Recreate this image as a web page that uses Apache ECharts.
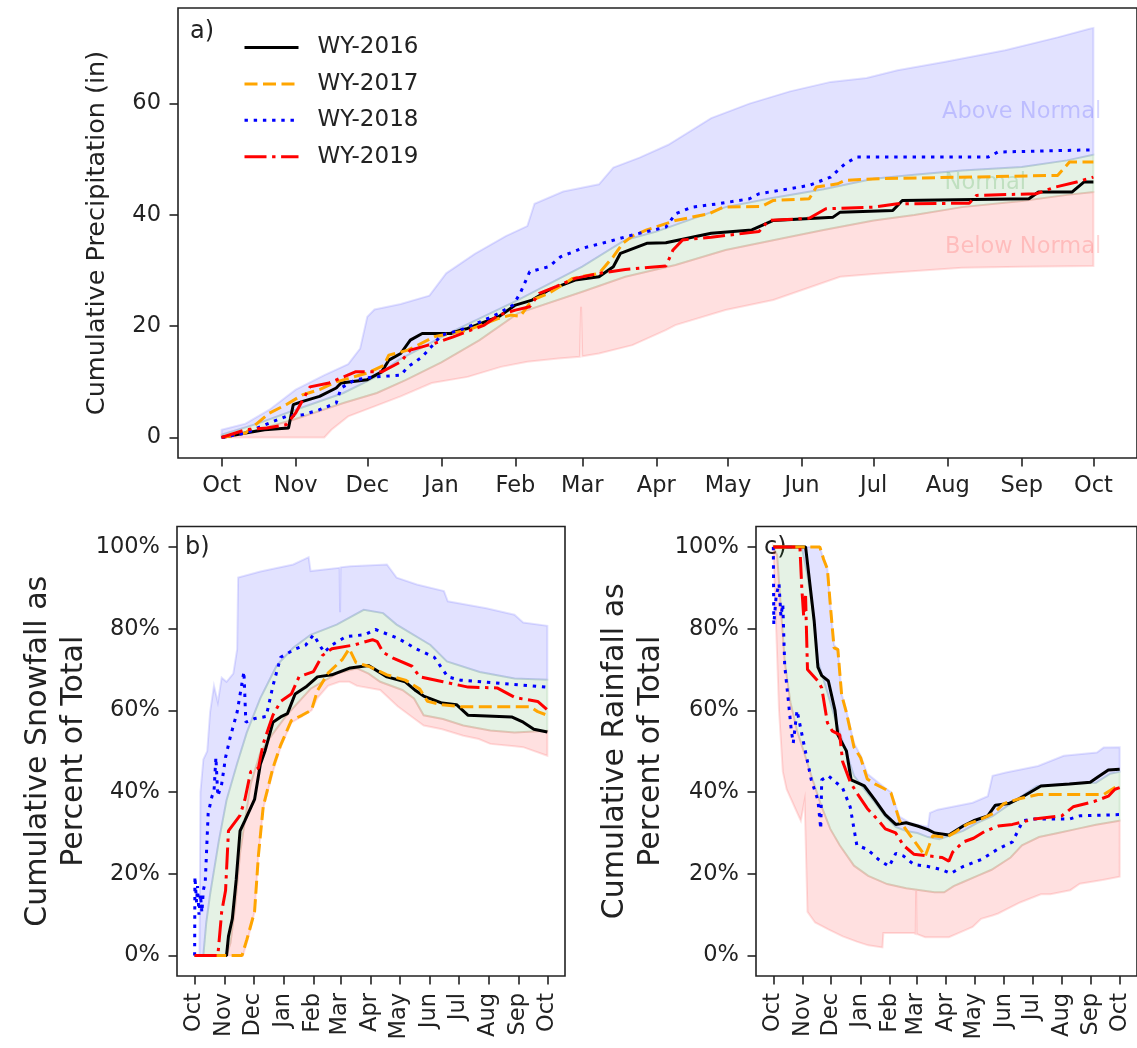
<!DOCTYPE html>
<html>
<head>
<meta charset="utf-8">
<script src="https://cdn.jsdelivr.net/npm/echarts@6/dist/echarts.min.js"></script>
<style>
  html, body { margin: 0; padding: 0; background: #ffffff; }
  #chart { width: 1137px; height: 1048px; }
</style>
</head>
<body>
<div id="chart"></div>
<script>
// ---- axis ticks: day of water year (0 = Oct 1) ----
const monthTicks = [0, 31, 61, 92, 123, 151, 182, 212, 243, 273, 304, 335, 365];
const monthLabels = ['Oct', 'Nov', 'Dec', 'Jan', 'Feb', 'Mar', 'Apr', 'May', 'Jun', 'Jul', 'Aug', 'Sep', 'Oct'];
const precipTicks = [0, 20, 40, 60];
const percentTicks = [0, 20, 40, 60, 80, 100];

const seriesNames = ['WY-2016', 'WY-2017', 'WY-2018', 'WY-2019'];
const bandLabels = ['Above Normal', 'Normal', 'Below Normal'];
const bandLabelAt = [[368.5, 58.5], [337, 45.7], [368.5, 34.2]];

// ---- a) cumulative precipitation (in), [day, value] ----
const precip2016 = [[0,0],[10,0.8],[18,1.4],[28,1.7],[30,5.9],[34,6.5],[41,7.4],[48,8.9],[50,9.8],[61,10.4],[67,11.8],[70,13.9],[75,15.1],[79,17.5],[84,18.7],[96,18.7],[100,19.3],[103,19.6],[116,21.7],[123,23.8],[130,24.7],[137,26.5],[148,28.3],[158,28.9],[164,30.7],[167,33.1],[178,34.9],[186,35],[205,36.7],[222,37.3],[231,39],[256,39.6],[259,40.5],[281,40.8],[285,42.6],[338,42.9],[342,44.1],[356,44.1],[361,45.9],[365,45.9]];
const precip2017 = [[0,0],[10,0.8],[15,2.6],[20,4.4],[27,5.9],[34,7.7],[41,8.6],[48,10],[61,11.6],[68,13],[70,14.8],[78,15.7],[89,18.1],[103,19.3],[116,21.4],[121,22],[125,21.8],[130,24.7],[137,25.9],[147,28.6],[158,29.5],[164,32.5],[168,34.9],[172,36.2],[178,37.3],[190,39],[204,40.2],[210,41.4],[226,41.5],[231,42.6],[246,42.9],[249,45],[258,45.6],[261,46.2],[275,46.5],[350,47.1],[355,49.5],[365,49.5]];
const precip2018 = [[0,0],[10,0.8],[20,2.6],[27,3.8],[34,4.1],[41,5],[48,6.2],[50,8.9],[56,10.4],[64,10.9],[75,11.2],[78,12.7],[84,14.5],[89,16.9],[92,18.4],[100,19.3],[110,21.1],[116,22.3],[122,23.8],[125,25.9],[129,29.8],[137,30.7],[142,32.5],[151,34],[162,35.2],[172,36.4],[186,37.8],[190,40.2],[197,41.4],[208,42],[221,42.9],[225,43.8],[246,45.3],[255,46.8],[261,49.2],[266,50.4],[321,50.4],[325,51.3],[365,51.7]];
const precip2019 = [[0,0],[10,1.4],[19,1.7],[27,2.3],[31,4.4],[37,9.1],[45,9.8],[56,11.8],[67,11.8],[75,13.6],[79,15.7],[89,16.9],[97,18.1],[110,20.2],[116,22],[123,22.9],[129,23.5],[133,25.9],[140,27.1],[148,28.6],[158,29.5],[169,30.2],[186,30.8],[189,33.7],[193,35.5],[205,36],[225,37],[229,39],[246,39.4],[253,41.1],[273,41.4],[283,42],[313,42.1],[316,43.5],[341,43.8],[349,45],[358,45.9],[365,46.8]];

// a) historical envelope: max, upper/lower bound of normal, min
const precipMax = [[0,1.4],[10,2.5],[20,5],[31,8.6],[43,11.2],[53,13.2],[58,16],[61,21.7],[64,23],[75,24],[87,25.5],[94,29.5],[106,33],[119,36.2],[128,38],[131,42],[143,44.2],[158,45.5],[164,48.5],[175,50.3],[187,52.6],[205,57.4],[221,60],[238,62.2],[255,63.9],[270,64.6],[283,66],[303,67.5],[328,69.6],[350,71.9],[363,73.4],[365,73.6]];
const precipNormHigh = [[0,0.5],[15,2.5],[31,5],[51,8],[65,11],[74,13.9],[95,18.7],[124,24.7],[151,30.7],[169,35.5],[182,37],[211,41.4],[230,43],[252,44.6],[273,46.5],[290,47.2],[310,48],[335,48.6],[354,49.8],[365,50.8]];
const precipNormLow = [[0,0.2],[10,0.8],[30,3.2],[51,6.2],[65,8],[77,10.3],[92,13.5],[108,17.5],[124,22.3],[151,26.2],[169,28.9],[190,31],[211,33.7],[235,35.8],[252,37.3],[273,39],[290,40],[310,41.4],[335,42.5],[354,43.6],[365,44.1]];
const precipMin = [[0,0],[43,0],[46,1.4],[53,3.8],[64,5.6],[75,7.4],[88,9.8],[103,10.9],[117,12.7],[128,13.6],[141,14.2],[150,14.5],[150.5,23.5],[151,14.6],[158,15.1],[172,16.6],[186,19.3],[190,20.2],[211,22.9],[231,24.7],[247,27.1],[259,28.9],[273,29.4],[283,29.7],[310,30.5],[335,30.7],[365,30.8]];

// ---- b) cumulative snowfall as percent of total ----
const snow2016 = [[0,0],[33,0],[35,4.7],[39,9],[43,18.5],[47,30.5],[52,33],[62,38.2],[68,46.8],[73,50.2],[81,57.1],[89,58.4],[96,59.2],[104,64],[115,65.7],[127,68.2],[142,68.7],[161,70.4],[180,71],[199,68.2],[218,67],[229,64.8],[237,63.5],[256,61.8],[271,61.4],[283,58.8],[328,58.4],[340,57.1],[351,55.4],[365,54.7]];
const snow2017 = [[0,0],[49,0],[54,3.9],[62,10.7],[66,24.5],[71,36.5],[81,45.9],[89,51.5],[100,57.5],[111,58.8],[121,60.1],[127,64.8],[138,69.1],[153,72.5],[160,75.1],[167,71.7],[180,70.8],[199,68.7],[218,67.4],[233,65.2],[241,62.2],[256,61.4],[275,60.9],[347,60.9],[355,59.7],[365,58.8]];
const snow2018 = [[0,0],[0.3,19.3],[2,13],[3,17],[4.5,10],[6,15],[7.5,10.5],[9,16],[11,18],[14,34.8],[18,39],[20,40],[22,48.5],[24,39],[28,42],[32,48.5],[37,53.6],[44,59.6],[51,69.5],[53,57.1],[62,58],[74,58.5],[81,66],[89,73],[104,75],[115,76],[123,78.5],[134,74.2],[142,76],[157,78.1],[176,78.5],[187,79.8],[210,77.7],[229,75.1],[248,73],[262,68.2],[275,67.4],[365,65.7]];
const snow2019 = [[0,0],[24,0],[28,10.7],[32,15.9],[35,30.5],[47,34.3],[52,38.2],[58,45],[66,45.9],[71,51.9],[81,58.8],[89,62.2],[100,64],[108,68.2],[123,69.5],[132,73.4],[142,75.1],[165,76],[184,77.3],[189,76.8],[195,74.2],[206,72.7],[225,70.8],[233,68.2],[257,67],[283,65.7],[313,65.5],[332,63.1],[355,62.2],[365,60.1]];

const snowMax = [[0,0],[5,0],[6,40],[9,48],[13,50],[16,59.6],[20,66],[24,62],[28,68],[33,67],[40,69],[44,75],[45,92.5],[68,94],[102,95.7],[118,97.5],[120,94.1],[150,94.9],[150.5,84],[151,95],[161,95.3],[199,95.7],[209,92.5],[230,90.8],[258,89.2],[262,86.7],[302,85],[331,83.4],[340,81.5],[365,80.7]];
const snowNormHigh = [[0,0],[9,0],[12,8],[16,15],[25,28],[33,38],[44,47],[54,54.6],[68,63],[85,71],[102,75.3],[120,78.5],[147,81],[175,84.6],[195,83.8],[209,81],[244,76],[261,72],[295,69.4],[331,67.8],[365,67.5]];
const snowNormLow = [[0,0],[33,0],[37,3],[42,12],[47,25],[52,33],[58,42],[68,49.7],[80,54],[95,58.8],[120,65.3],[147,69],[168,70.3],[180,69],[192,67],[215,65],[227,62.9],[237,58.8],[257,57.9],[278,56.3],[306,55.1],[331,54.6],[365,55]];
const snowMin = [[0,0],[50,0],[55,4],[62,10.7],[66,24.5],[71,36],[81,45],[89,51],[100,57],[111,58.5],[121,60],[127,63],[138,66],[150,67],[160,67],[168,66],[192,65],[210,61],[227,58],[237,56.3],[256,55.4],[278,53.8],[294,53],[306,51.8],[331,51.2],[340,51],[365,48.9]];

// ---- c) cumulative rainfall as percent of total ----
const rain2016 = [[0,100],[34,100],[38,92],[43,82],[47,70.6],[51,68.5],[58,67.2],[65,60],[68,54],[77,50.1],[82,43],[96,41.5],[107,38.1],[118,34.5],[129,32.1],[140,32.5],[152,31.7],[163,30.8],[170,30],[185,29.5],[200,31.7],[211,33],[226,34.2],[234,36.8],[248,37.2],[260,38.5],[282,41.5],[312,42],[334,42.4],[342,43.7],[353,45.4],[365,45.6]];
const rain2017 = [[0,100],[49,100],[53,97],[57,94.6],[60,86],[64,75.3],[68,74.9],[72,63.8],[77,59.5],[85,51],[92,48.4],[99,43.2],[107,42],[118,40.7],[124,39.8],[133,33],[144,29.5],[155,26],[160,24.3],[168,29.3],[182,28.9],[193,30.4],[204,32.1],[219,33.4],[232,34.8],[243,37.2],[258,38.3],[279,39.4],[348,39.4],[360,41.1],[365,41.4]];
const rain2018 = [[0,100],[0.5,81],[3,88],[6,91],[8,83],[10,86],[12,71],[16,62],[19,55],[21,52],[25,60],[32,52],[40,43],[47,38],[50,31],[51,43],[58,44],[73,41],[81,36.4],[88,27],[99,26],[111,23.5],[122,21.8],[129,25],[137,24.4],[148,22.3],[163,21.8],[178,21],[187,20.1],[200,21.8],[219,23.5],[237,26.1],[252,27.8],[263,33],[275,33.4],[312,33.4],[323,34.2],[365,34.5]];
const rain2019 = [[0,100],[28,100],[30,90],[32,83],[34,88],[36,70],[47,67.2],[51,65.5],[57,57],[62,55],[70,54],[73,47.5],[81,42.5],[88,39.8],[99,36],[111,33],[118,31],[129,30],[137,27],[148,24.8],[163,24.4],[178,24],[185,23.1],[189,25.3],[200,27.8],[211,28.7],[223,30.4],[237,31.7],[252,32.1],[275,33.4],[304,34.2],[316,36.4],[338,37.7],[353,39],[360,40.7],[365,41.1]];

const rainMax = [[0,100],[49,100],[53,97],[57,94.6],[60,86],[64,76],[68,75],[72,64],[77,60],[85,52],[92,49],[99,44.5],[107,43],[118,41],[124,40],[133,34],[144,32.5],[152,32],[163,31.5],[165,34.9],[173,35.7],[210,37.4],[226,39],[231,44],[245,44.8],[279,46.4],[306,48.9],[341,49.7],[348,50.9],[365,51]];
const rainNormHigh = [[0,100],[30,100],[36,93],[42,84],[47,72],[55,66],[65,58],[75,51],[85,44],[95,41],[107,37.5],[118,34],[129,31.5],[140,30.5],[152,30],[163,29],[175,28.5],[200,30.5],[215,32.5],[231,34.1],[257,38.3],[278,41.5],[310,42],[340,42.3],[355,44.5],[365,45]];
const rainNormLow = [[0,100],[4,98],[8,85],[12,72],[18,62],[25,55],[32,50],[40,44],[50,37],[60,31],[70,27],[85,22],[100,19.5],[120,17.5],[140,16.5],[155,16],[170,15.5],[180,15.5],[190,17],[200,18],[215,19.5],[230,21],[250,24],[262,27],[280,29],[300,30],[320,31],[340,32],[365,33]];
const rainMin = [[0,100],[3,80],[6,60],[10,45],[14,40.7],[25,35],[29,33],[33,38],[36,10.7],[44,8.1],[58,6.4],[73,4.7],[88,3.4],[100,2.5],[115,2],[116,5.5],[148,5.5],[150,5.3],[150.5,15.8],[151,5.3],[160,4.5],[185,4.5],[200,6],[210,7],[219,9],[231,9.8],[237,10.3],[260,13],[282,15],[292,15],[313,16],[323,17.6],[347,18.5],[365,19.3]];

// ---- styling ----
const FONT = "'DejaVu Sans', sans-serif";
const INK = '#222222';
const yearStyles = [
  { color: '#000000', type: 'solid' },
  { color: '#ffa500', type: [13, 5.5] },
  { color: '#0000ff', type: [3.4, 5.8] },
  { color: '#ff0000', type: [22, 5.6, 3.4, 5.6] }
];
const bandFill = {
  above: 'rgba(0, 0, 255, 0.115)',
  normal: 'rgba(0, 128, 0, 0.10)',
  below: 'rgba(255, 0, 0, 0.12)'
};
const bandLabelColors = ['rgba(0, 0, 255, 0.2)', 'rgba(0, 128, 0, 0.2)', 'rgba(255, 0, 0, 0.2)'];

function bandSeries(axisIdx, lower, upper, color) {
  return {
    type: 'custom',
    xAxisIndex: axisIdx,
    yAxisIndex: axisIdx,
    silent: true,
    z: 1,
    animation: false,
    data: [lower[0]],
    renderItem: function (params, api) {
      const pts = upper.map(p => api.coord(p))
        .concat(lower.slice().reverse().map(p => api.coord(p)));
      return {
        type: 'polygon',
        shape: { points: pts },
        style: { fill: color, stroke: color, lineWidth: 2 }
      };
    }
  };
}

function yearSeries(axisIdx, i, data) {
  return {
    type: 'line',
    name: seriesNames[i],
    xAxisIndex: axisIdx,
    yAxisIndex: axisIdx,
    data: data,
    symbol: 'none',
    z: 3 + i,
    animation: false,
    itemStyle: { color: yearStyles[i].color },
    lineStyle: { color: yearStyles[i].color, width: 3, type: yearStyles[i].type, cap: 'butt' }
  };
}

function xAxisFor(gridIdx, rotated) {
  return {
    type: 'value',
    gridIndex: gridIdx,
    min: -18.25,
    max: 383.25,
    axisLine: { show: false, onZero: false },
    splitLine: { show: false },
    axisTick: { show: true, customValues: monthTicks, length: 8.5, lineStyle: { color: INK, width: 1.6 } },
    axisLabel: {
      customValues: monthTicks,
      formatter: v => monthLabels[monthTicks.indexOf(v)],
      margin: 17,
      rotate: rotated ? 90 : 0,
      fontSize: 22.5,
      color: INK,
      fontFamily: FONT
    }
  };
}

function yAxisFor(gridIdx, opts) {
  return {
    type: 'value',
    gridIndex: gridIdx,
    min: opts.min,
    max: opts.max,
    axisLine: { show: false, onZero: false },
    splitLine: { show: false },
    axisTick: { show: true, customValues: opts.ticks, length: 8.5, lineStyle: { color: INK, width: 1.6 } },
    axisLabel: {
      customValues: opts.ticks,
      formatter: opts.formatter,
      margin: 17,
      fontSize: 22.5,
      color: INK,
      fontFamily: FONT
    },
    name: opts.name,
    nameLocation: 'middle',
    nameRotate: 90,
    nameGap: opts.nameGap,
    nameTextStyle: { fontSize: opts.nameSize, lineHeight: opts.nameLineHeight, color: INK, fontFamily: FONT }
  };
}

const gridStyle = { show: true, borderColor: INK, borderWidth: 1.6, backgroundColor: 'transparent' };

const option = {
  animation: false,
  backgroundColor: '#ffffff',
  textStyle: { fontFamily: FONT },
  grid: [
    Object.assign({ left: 178, top: 8, width: 968, height: 450 }, gridStyle),
    Object.assign({ left: 177, top: 526.5, width: 388, height: 449.5 }, gridStyle),
    Object.assign({ left: 756, top: 526.5, width: 388, height: 449.5 }, gridStyle)
  ],
  xAxis: [xAxisFor(0, false), xAxisFor(1, true), xAxisFor(2, true)],
  yAxis: [
    yAxisFor(0, { min: -3.675, max: 77.175, ticks: precipTicks, formatter: v => String(v),
      name: 'Cumulative Precipitation (in)', nameGap: 66, nameSize: 25.5, nameLineHeight: 30 }),
    yAxisFor(1, { min: -5, max: 105, ticks: percentTicks, formatter: v => v + '%',
      name: 'Cumulative Snowfall as\nPercent of Total', nameGap: 84, nameSize: 30, nameLineHeight: 36 }),
    yAxisFor(2, { min: -5, max: 105, ticks: percentTicks, formatter: v => v + '%',
      name: 'Cumulative Rainfall as\nPercent of Total', nameGap: 87, nameSize: 30, nameLineHeight: 36 })
  ],
  legend: {
    data: seriesNames,
    orient: 'vertical',
    left: 243,
    top: 36,
    padding: 0,
    itemWidth: 54,
    itemHeight: 24,
    itemGap: 13.4,
    selectedMode: false,
    itemStyle: { color: 'rgba(0,0,0,0)', borderWidth: 0, opacity: 0 },
    lineStyle: { width: 3 },
    textStyle: { fontSize: 23, color: INK, fontFamily: FONT, padding: [0, 0, 0, 14] }
  },
  graphic: [
    { type: 'text', left: 190, top: 20, style: { text: 'a)', fontSize: 24, fill: INK, fontFamily: FONT } },
    { type: 'text', left: 185, top: 536, style: { text: 'b)', fontSize: 24, fill: INK, fontFamily: FONT } },
    { type: 'text', left: 764, top: 536, style: { text: 'c)', fontSize: 24, fill: INK, fontFamily: FONT } }
  ],
  series: [
    bandSeries(0, precipNormHigh, precipMax, bandFill.above),
    bandSeries(0, precipNormLow, precipNormHigh, bandFill.normal),
    bandSeries(0, precipMin, precipNormLow, bandFill.below),
    bandSeries(1, snowNormHigh, snowMax, bandFill.above),
    bandSeries(1, snowNormLow, snowNormHigh, bandFill.normal),
    bandSeries(1, snowMin, snowNormLow, bandFill.below),
    bandSeries(2, rainNormHigh, rainMax, bandFill.above),
    bandSeries(2, rainNormLow, rainNormHigh, bandFill.normal),
    bandSeries(2, rainMin, rainNormLow, bandFill.below),
    {
      type: 'scatter',
      xAxisIndex: 0,
      yAxisIndex: 0,
      silent: true,
      z: 2,
      symbolSize: 1,
      itemStyle: { color: 'rgba(0,0,0,0)' },
      data: bandLabelAt.map((p, i) => ({
        value: p,
        label: {
          show: true,
          formatter: bandLabels[i],
          position: 'left',
          distance: 0,
          fontSize: 22.5,
          fontFamily: FONT,
          color: bandLabelColors[i]
        }
      }))
    },
    yearSeries(0, 0, precip2016),
    yearSeries(0, 1, precip2017),
    yearSeries(0, 2, precip2018),
    yearSeries(0, 3, precip2019),
    yearSeries(1, 0, snow2016),
    yearSeries(1, 1, snow2017),
    yearSeries(1, 2, snow2018),
    yearSeries(1, 3, snow2019),
    yearSeries(2, 0, rain2016),
    yearSeries(2, 1, rain2017),
    yearSeries(2, 2, rain2018),
    yearSeries(2, 3, rain2019)
  ]
};

const chart = echarts.init(document.getElementById('chart'), null, { renderer: 'canvas' });
chart.setOption(option);
</script>
</body>
</html>
